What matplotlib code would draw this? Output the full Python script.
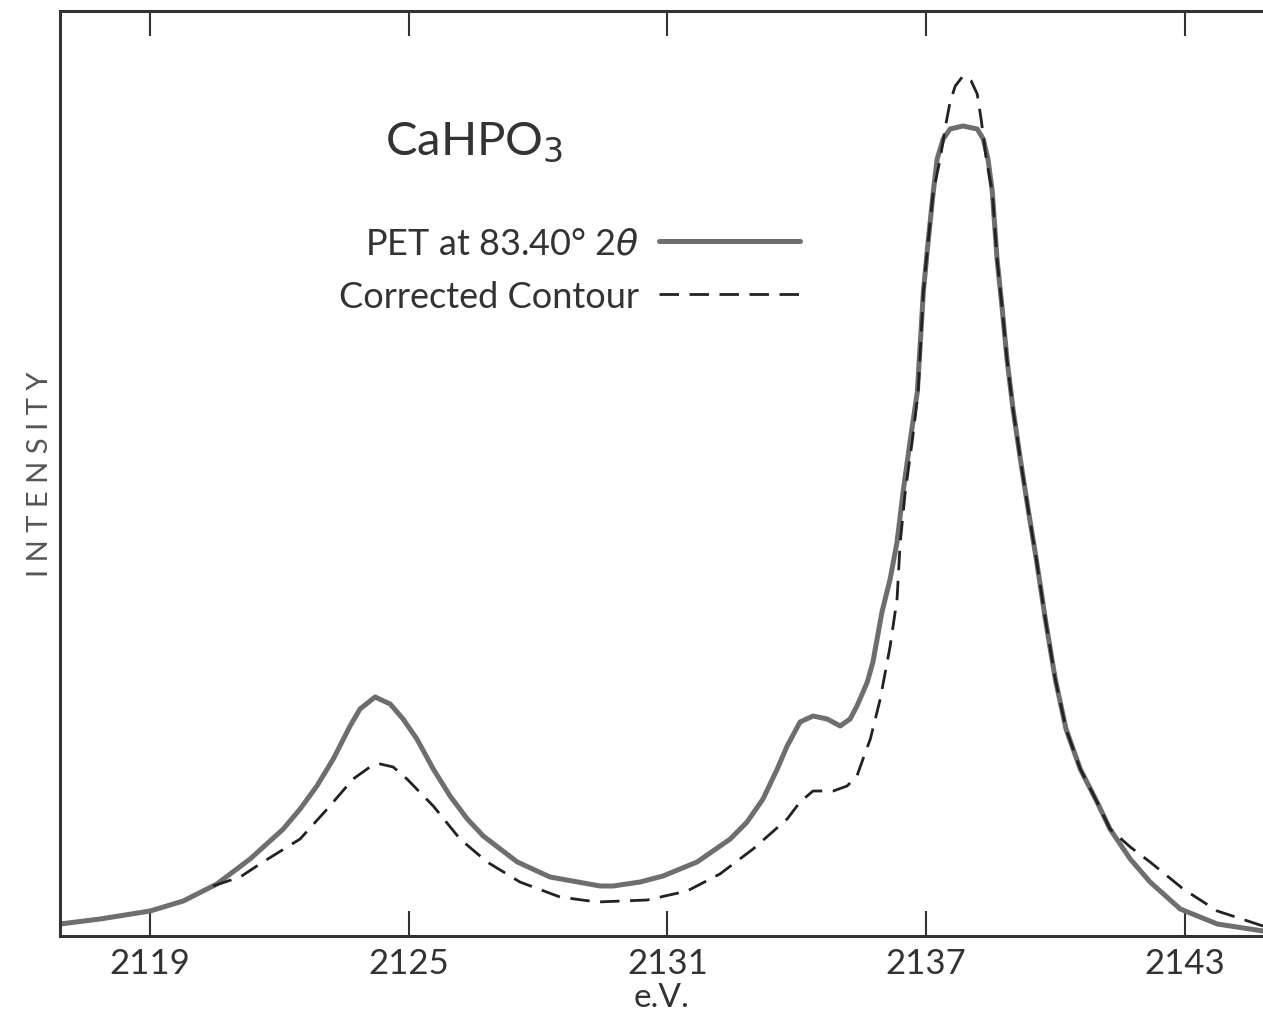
import matplotlib
matplotlib.use("Agg")
import matplotlib.pyplot as plt
from matplotlib.ticker import FixedLocator

# ---- data ----
pet_ev = [2116.91, 2117.84, 2119.00, 2119.77, 2120.55, 2121.32, 2122.09, 2122.48,
          2122.87, 2123.25, 2123.64, 2123.87, 2124.22, 2124.57, 2124.87, 2125.19,
          2125.57, 2125.96, 2126.36, 2126.73, 2127.52, 2128.28, 2129.44, 2129.74,
          2130.37, 2130.90, 2131.69, 2132.46, 2132.85, 2133.22, 2133.55, 2133.78,
          2134.08, 2134.38, 2134.71, 2135.01, 2135.24, 2135.40, 2135.64, 2135.77,
          2135.98, 2136.17, 2136.33, 2136.47, 2136.63, 2136.80, 2136.94, 2137.05,
          2137.17, 2137.26, 2137.40, 2137.56, 2137.86, 2138.19, 2138.33, 2138.44,
          2138.54, 2138.65, 2138.77, 2138.88, 2139.02, 2139.19, 2139.37, 2139.56,
          2139.77, 2140.00, 2140.25, 2140.58, 2140.97, 2141.27, 2141.74, 2142.20,
          2142.90, 2143.76, 2144.82]
pet_int = [12, 17, 25, 35, 52, 77, 107, 127,
           150, 177, 210, 227, 239, 232, 217, 197,
           167, 140, 117, 100, 74, 59, 50, 50,
           54, 60, 74, 97, 114, 137, 167, 190,
           214, 220, 217, 210, 217, 230, 254, 274,
           324, 357, 394, 444, 494, 544, 644, 694,
           744, 777, 797, 807, 810, 807, 797, 777,
           744, 677, 627, 577, 527, 477, 427, 377,
           317, 257, 207, 167, 134, 107, 77, 54,
           27, 12, 5]

cor_ev = [2120.46, 2121.09, 2121.62, 2122.48, 2123.11, 2123.71, 2124.10, 2124.34,
          2124.64, 2124.96, 2125.57, 2126.19, 2126.82, 2127.58, 2128.51, 2129.37,
          2130.53, 2131.46, 2132.22, 2132.99, 2133.78, 2134.08, 2134.38, 2134.85,
          2135.17, 2135.40, 2135.54, 2135.71, 2135.94, 2136.17, 2136.33, 2136.40,
          2136.52, 2136.68, 2136.82, 2136.94, 2137.05, 2137.17, 2137.33, 2137.45,
          2137.56, 2137.68, 2137.86, 2138.05, 2138.19, 2138.28, 2138.40, 2138.54,
          2138.65, 2138.77, 2138.88, 2139.02, 2139.19, 2139.37, 2139.56, 2139.77,
          2140.00, 2140.25, 2140.58, 2140.97, 2141.27, 2141.74, 2142.20, 2142.97,
          2143.76, 2144.82]
cor_int = [50, 59, 74, 97, 127, 157, 169, 172,
           169, 157, 130, 97, 74, 54, 39, 34,
           36, 45, 62, 87, 117, 134, 145, 145,
           150, 160, 177, 197, 237, 290, 337, 392,
           444, 494, 544, 644, 694, 744, 777, 809,
           834, 850, 860, 855, 842, 817, 777, 744,
           677, 627, 577, 527, 477, 427, 377, 317,
           257, 207, 167, 134, 107, 89, 74, 47,
           25, 10]

tick_vals = [2119, 2125, 2131, 2137, 2143]
tick_labels = ["2119", "2125", "2131", "2137", "2143"]

FONT = "Lato"
TXT = "#333333"

fig = plt.figure(figsize=(12.63, 10.20), dpi=100)
ax = fig.add_axes([60/1263, 83/1020, 1 - 60/1263, 925/1020])

l1, = ax.plot(pet_ev, pet_int, color="#6e6e6e", lw=3.6, solid_joinstyle="round",
              solid_capstyle="round", label="PET at 83.40° 2$\\theta$")
l2, = ax.plot(cor_ev, cor_int, color="#222222", lw=2.0, dashes=(7, 3.8),
              dash_joinstyle="round", label="Corrected Contour")

ax.set_xlim(2116.91, 2144.82)
ax.set_ylim(0, 925)

for s in ["left", "top", "bottom"]:
    ax.spines[s].set_linewidth(2.2)
    ax.spines[s].set_color("#333333")
ax.spines["right"].set_visible(False)

ax.xaxis.set_major_locator(FixedLocator(tick_vals))
ax.set_xticklabels(tick_labels, fontsize=25, family=FONT, color=TXT)
ax.tick_params(axis="x", which="major", direction="in", length=18, width=1.5,
               colors="#333333", top=True, bottom=True, pad=8, labelcolor=TXT)
ax.set_yticks([])

ax.set_xlabel("e.V.", fontsize=24, family=FONT, color=TXT, labelpad=2)
ax.set_ylabel("I N T E N S I T Y", fontsize=21, family=FONT, color="#555555",
              labelpad=5)

ax.text(2124.45, 795, "CaHPO$_3$", fontsize=34, family=FONT, color=TXT,
        ha="left", va="center")

leg = ax.legend(handles=[l1, l2], loc="upper left", bbox_to_anchor=(0.205, 0.802),
                frameon=False, markerfirst=False, handlelength=3.9,
                handletextpad=0.55, labelspacing=0.55,
                prop={"family": FONT, "size": 26})
for t in leg.get_texts():
    t.set_color(TXT)

fig.savefig("out.png", dpi=100)
